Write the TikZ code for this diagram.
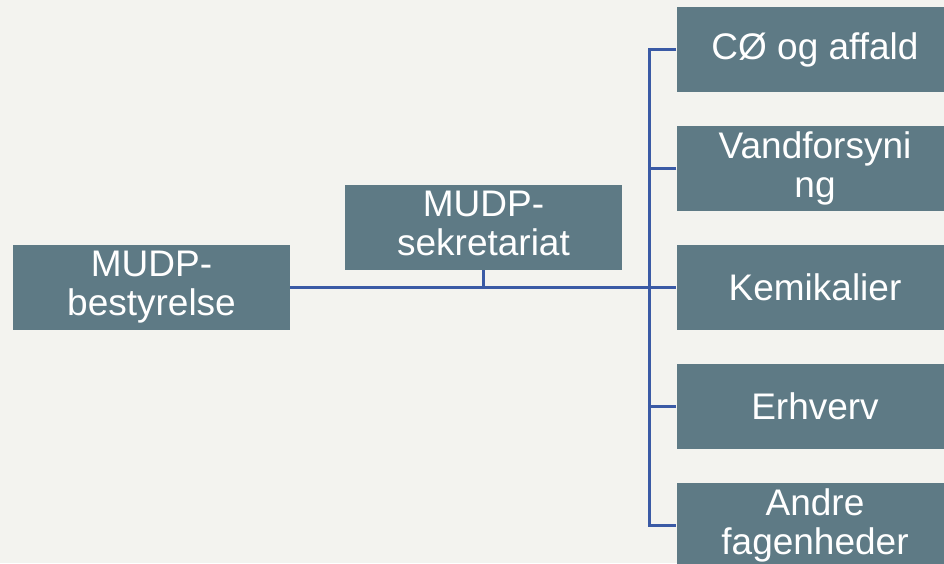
\documentclass[tikz,border=0pt]{standalone}
\usepackage{fontspec}
\setmainfont{Liberation Sans}
\definecolor{bgc}{HTML}{F3F3EF}
\definecolor{boxc}{HTML}{5E7A85}
\definecolor{linec}{HTML}{3A5AA5}
\begin{document}
\begin{tikzpicture}[x=1pt,y=-1pt,
  orgbox/.style={rectangle, fill=boxc, text=white, minimum width=277pt, minimum height=85pt,
    inner sep=0pt, align=center, font=\fontsize{37}{39}\selectfont},
  conn/.style={draw=linec, line width=2.6pt}]
\useasboundingbox (0,0) rectangle (944,563);
\clip (0,0) rectangle (944,563);
\fill[bgc] (0,0) rectangle (944,563);
\node[orgbox] (L) at (151.5,287.5) {MUDP-\\bestyrelse};
\node[orgbox] (M) at (483.5,227.5) {MUDP-\\sekretariat\vphantom{y}};
\node[orgbox] (C) at (815,49.5) {CØ og affald};
\node[orgbox] (V) at (815,168.5) {Vandforsyni\\ng};
\node[orgbox] (K) at (815,287.5) {Kemikalier};
\node[orgbox] (E) at (815,406.5) {Erhverv};
\node[orgbox] (A) at (815,525.5) {Andre\\fagenheder};
\coordinate (t1) at ([xshift=-27pt]C.west);
\coordinate (t5) at ([xshift=-27pt]A.west);
\draw[conn] (L.east) -- (K.west);
\draw[conn] (M.south) -- (M.south |- L.east);
\draw[conn] (C.west) -- (t1) -- (t5) -- (A.west);
\draw[conn] (V.west) -- (V.west -| t1);
\draw[conn] (E.west) -- (E.west -| t1);
\end{tikzpicture}
\end{document}
